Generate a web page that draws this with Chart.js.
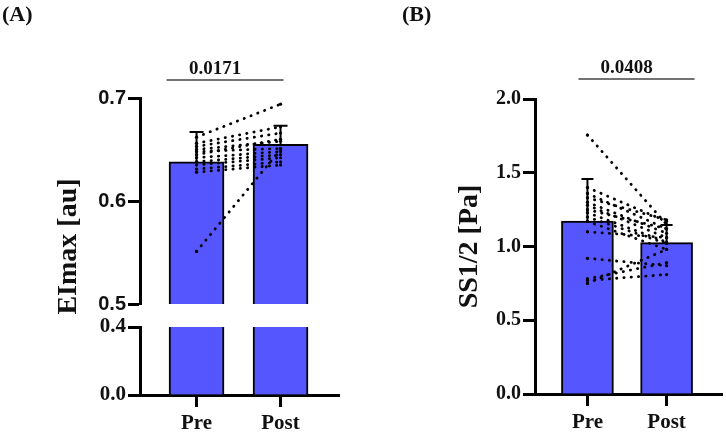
<!DOCTYPE html>
<html>
<head>
<meta charset="utf-8">
<script src="https://cdn.jsdelivr.net/npm/chart.js@4.4.1/dist/chart.umd.min.js"></script>
<style>
  html, body { margin: 0; padding: 0; background: #fff; }
  .page { position: relative; width: 726px; height: 433px; overflow: hidden; }
  .panel { position: absolute; top: 0; width: 363px; height: 433px; }
  .tag { position: absolute; top: 1px; font: bold 22px "Liberation Serif", "Times New Roman", serif; color: #111; }
</style>
</head>
<body>
<div class="page">
  <div class="panel" style="left:0"><canvas id="chartA"></canvas></div>
  <div class="panel" style="left:363px"><canvas id="chartB"></canvas></div>
  <div class="tag" style="left:2px">(A)</div>
  <div class="tag" style="left:402px">(B)</div>
</div>
<script>
const groups = ['Pre', 'Post'];

// (A) EImax, broken axis
const eimaxMean = [0.638, 0.655];
const eimaxSD = [0.029, 0.018];
const eimaxPre = [0.662, 0.551, 0.656, 0.653, 0.650, 0.648, 0.645, 0.642, 0.638, 0.635, 0.631, 0.628];
const eimaxPost = [0.694, 0.650, 0.672, 0.666, 0.658, 0.651, 0.660, 0.648, 0.645, 0.642, 0.638, 0.635];
const eimaxTopTicks = [0.5, 0.6, 0.7];
const eimaxLowTicks = [0.0, 0.4];
const eimaxP = '0.0171';

// (B) SS1/2
const ssMean = [1.173, 1.026];
const ssSD = [0.285, 0.12];
const ssPre = [1.756, 1.40, 1.36, 1.33, 1.30, 1.28, 1.25, 1.23, 1.20, 1.17, 1.10, 0.92, 0.78, 0.77, 0.75];
const ssPost = [1.150, 1.17, 1.12, 1.18, 1.09, 1.06, 1.12, 1.03, 1.02, 0.98, 1.06, 0.87, 0.89, 0.81, 0.98];
const ssTicks = [0.0, 0.5, 1.0, 1.5, 2.0];
const ssP = '0.0408';

const serif = '"Liberation Serif", "Times New Roman", serif';
const sans = '"Liberation Sans", Arial, sans-serif';
const barBlue = 'rgb(86, 86, 255)';

// whisker up from bar top, with cap
const errorBars = {
  id: 'errbars',
  afterDatasetsDraw(chart, args, opts) {
    const ctx = chart.ctx;
    const xs = chart.scales.x, ys = chart.scales[opts.axis];
    ctx.save();
    ctx.strokeStyle = '#000';
    ctx.lineWidth = 2;
    opts.mean.forEach((m, i) => {
      const x = xs.getPixelForValue(i + 1);
      const y0 = ys.getPixelForValue(m);
      const y1 = ys.getPixelForValue(m + opts.sd[i]);
      ctx.beginPath();
      ctx.moveTo(x, y0);
      ctx.lineTo(x, y1);
      ctx.moveTo(x - opts.cap, y1);
      ctx.lineTo(x + opts.cap, y1);
      ctx.stroke();
    });
    ctx.restore();
  }
};

// p-value bracket above the bars
const sigBar = {
  id: 'sig',
  afterDraw(chart, args, opts) {
    const ctx = chart.ctx;
    const xs = chart.scales.x;
    const x1 = xs.getPixelForValue(1) + opts.from;
    const x2 = xs.getPixelForValue(2) + opts.to;
    const y = chart.chartArea.top - opts.rise;
    ctx.save();
    ctx.strokeStyle = '#444';
    ctx.lineWidth = 1.6;
    ctx.beginPath();
    ctx.moveTo(x1, y);
    ctx.lineTo(x2, y);
    ctx.stroke();
    ctx.fillStyle = '#111';
    ctx.font = 'bold 19px ' + serif;
    ctx.textAlign = 'center';
    ctx.textBaseline = 'middle';
    ctx.fillText(opts.text, (x1 + x2) / 2 - 10, y - 11);
    ctx.restore();
  }
};

// axis title spanning the whole broken axis
const sideTitle = {
  id: 'sideTitle',
  afterDraw(chart, args, opts) {
    const ctx = chart.ctx;
    const area = chart.chartArea;
    ctx.save();
    ctx.translate(opts.x, (area.top + area.bottom) / 2);
    ctx.rotate(-Math.PI / 2);
    ctx.fillStyle = '#111';
    ctx.font = 'bold 28px ' + serif;
    ctx.textAlign = 'center';
    ctx.textBaseline = 'middle';
    ctx.fillText(opts.text, 0, 0);
    ctx.restore();
  }
};

function pairLines(pre, post, axis) {
  return pre.map((v, i) => ({
    type: 'line',
    yAxisID: axis,
    data: [{x: 1, y: v}, {x: 2, y: post[i]}],
    borderColor: '#000',
    borderWidth: 2.8,
    borderDash: [0.3, 7],
    borderCapStyle: 'round',
    pointRadius: 1.6,
    pointBackgroundColor: '#000',
    pointBorderWidth: 0,
    fill: false,
    order: 0
  }));
}

function barSet(means, axis, thickness) {
  return {
    type: 'bar',
    yAxisID: axis,
    data: means.map((v, i) => ({x: i + 1, y: v})),
    backgroundColor: barBlue,
    borderColor: '#000',
    borderWidth: 2,
    barThickness: thickness,
    grouped: false,
    clip: 0,
    order: 2
  };
}

function xAxis(min, max, height) {
  return {
    type: 'linear',
    min: min,
    max: max,
    offset: false,
    afterBuildTicks: s => { s.ticks = groups.map((g, i) => ({value: i + 1})); },
    afterFit: s => { s.height = height; },
    ticks: {
      callback: v => groups[v - 1],
      font: {family: serif, size: 21, weight: 'bold'},
      color: '#111',
      padding: 4,
      maxRotation: 0,
      autoSkip: false
    },
    grid: {offset: false, drawOnChartArea: false, tickLength: 12, tickWidth: 3, tickColor: '#000'},
    border: {color: '#000', width: 3}
  };
}

function yAxis(min, max, ticks, font, extra) {
  return Object.assign({
    type: 'linear',
    position: 'left',
    min: min,
    max: max,
    afterBuildTicks: s => { s.ticks = ticks.map(v => ({value: v})); },
    ticks: {
      callback: v => v.toFixed(1),
      font: font,
      color: '#111',
      padding: 2
    },
    grid: {drawOnChartArea: false, tickLength: 12, tickWidth: 3, tickColor: '#000'},
    border: {color: '#000', width: 3}
  }, extra);
}

new Chart(document.getElementById('chartA'), {
  type: 'bar',
  data: {
    datasets: [
      barSet(eimaxMean, 'yTop', 55),
      barSet(eimaxMean, 'yLow', 55),
      ...pairLines(eimaxPre, eimaxPost, 'yTop')
    ]
  },
  options: {
    responsive: true,
    maintainAspectRatio: false,
    animation: false,
    layout: {padding: {top: 98, right: 24, bottom: 0, left: 0}},
    plugins: {
      legend: {display: false},
      tooltip: {enabled: false},
      errbars: {mean: eimaxMean, sd: eimaxSD, axis: 'yTop', cap: 7},
      sig: {text: eimaxP, from: -30, to: 3, rise: 18},
      sideTitle: {text: 'EImax [au]', x: 69}
    },
    scales: {
      x: xAxis(0.327, 2.696, 38),
      yTop: yAxis(0.5, 0.7, eimaxTopTicks, {family: sans, size: 20, weight: 'bold'},
        {stack: 'a', stackWeight: 206, weight: 3, afterFit: s => { s.width = 140; }}),
      yGap: {
        type: 'linear', position: 'left', min: 0, max: 1,
        stack: 'a', stackWeight: 23, weight: 2,
        afterFit: s => { s.width = 140; },
        ticks: {display: false},
        grid: {display: false},
        border: {display: false}
      },
      yLow: yAxis(0, 0.4, eimaxLowTicks, {family: serif, size: 21, weight: 'bold'},
        {stack: 'a', stackWeight: 68, weight: 1, afterFit: s => { s.width = 140; }})
    }
  },
  plugins: [errorBars, sigBar, sideTitle]
});

new Chart(document.getElementById('chartB'), {
  type: 'bar',
  data: {
    datasets: [
      barSet(ssMean, 'y', 52),
      ...pairLines(ssPre, ssPost, 'y')
    ]
  },
  options: {
    responsive: true,
    maintainAspectRatio: false,
    animation: false,
    layout: {padding: {top: 99, right: 2, bottom: 0, left: 0}},
    plugins: {
      legend: {display: false},
      tooltip: {enabled: false},
      errbars: {mean: ssMean, sd: ssSD, axis: 'y', cap: 6},
      sig: {text: ssP, from: -9, to: 28, rise: 20}
    },
    scales: {
      x: xAxis(0.3375, 2.70, 39),
      y: yAxis(0, 2, ssTicks, {family: serif, size: 20, weight: 'bold'}, {
        afterFit: s => { s.width = 172; },
        title: {
          display: true,
          text: 'SS1/2 [Pa]',
          color: '#111',
          font: {family: serif, size: 28, weight: 'bold'},
          padding: {top: 90, bottom: 0}
        }
      })
    }
  },
  plugins: [errorBars, sigBar]
});
</script>
</body>
</html>
